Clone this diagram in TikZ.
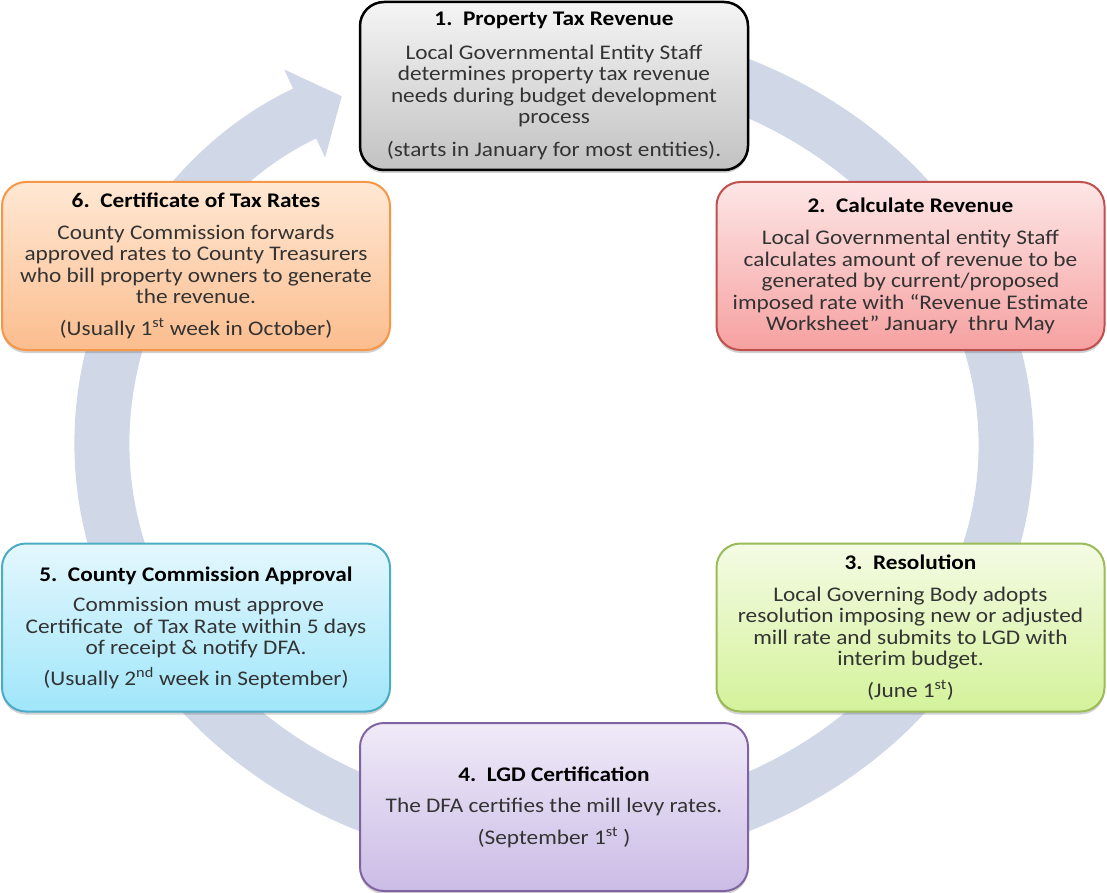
\documentclass[tikz,border=0pt]{standalone}
\usepackage{fontspec}
\setmainfont{Carlito}[FakeStretch=1.12]
\usetikzlibrary{arrows.meta, shadows}
\definecolor{ringblue}{HTML}{D0D8E8}
\tikzset{
stage/.style={draw, rounded corners=24pt, line width=2pt,
  minimum width=388pt, minimum height=168pt, align=center, inner sep=0pt,
  text=black!80, font=\fontsize{20.8}{21.5}\selectfont,
  drop shadow={shadow xshift=0pt, shadow yshift=-3pt, opacity=0.3, fill=black!60}},
ring/.style={draw=ringblue, line width=55pt},
}

\begin{document}
\begin{tikzpicture}[x=1pt, y=-1pt]
    \useasboundingbox (0,0) rectangle (1107,893);

    % circular arrow behind the stages
    \draw[ring, -{Triangle[length=41pt, width=95pt]}]
        (554,445) ++(-100:452 and 395)
        arc[start angle=-100, end angle=242, x radius=452, y radius=395];

    %stages, clockwise from the top
    \node[stage, draw=black, line width=2.5pt, top color=black!4, bottom color=black!24] (s1) at (554,86)
        {\textbf{\color{black}1.\ \ Property Tax Revenue}\\[12pt]
         Local Governmental Entity Staff\\
         determines property tax revenue\\
         needs during budget development\\
         process\\[11pt]
         (starts in January for most entities).};
    \node[stage, draw={rgb,255:red,192;green,80;blue,77}, top color={rgb,255:red,253;green,230;blue,230}, bottom color={rgb,255:red,246;green,160;blue,160}] (s2) at (910.5,266)
        {\textbf{\color{black}2.\ \ Calculate Revenue}\\[11pt]
         Local Governmental entity Staff\\
         calculates amount of revenue to be\\
         generated by current/proposed\\
         imposed rate with “Revenue Estimate\\
         Worksheet” January\ \ thru May};
    \node[stage, draw={rgb,255:red,155;green,187;blue,89}, top color={rgb,255:red,244;green,251;blue,228}, bottom color={rgb,255:red,212;green,242;blue,154}] (s3) at (910.5,627.5)
        {\textbf{\color{black}3.\ \ Resolution}\\[10pt]
         Local Governing Body adopts\\
         resolution imposing new or adjusted\\
         mill rate and submits to LGD with\\
         interim budget.\\[10pt]
         (June 1\textsuperscript{st})};
    \node[stage, draw={rgb,255:red,128;green,100;blue,162}, top color={rgb,255:red,240;green,234;blue,248}, bottom color={rgb,255:red,203;green,188;blue,230}] (s4) at (554,807)
        {\textbf{\color{black}4.\ \ LGD Certification}\\[10pt]
         The DFA certifies the mill levy rates.\\[10pt]
         (September 1\textsuperscript{st} )};
    \node[stage, draw={rgb,255:red,75;green,172;blue,198}, top color={rgb,255:red,228;green,247;blue,253}, bottom color={rgb,255:red,160;green,230;blue,250}] (s5) at (196,627.5)
        {\textbf{\color{black}5.\ \ County Commission Approval}\\[9pt]
         \ Commission must approve\\
         Certificate\ \ of Tax Rate within 5 days\\
         of receipt \& notify DFA.\\[9pt]
         (Usually 2\textsuperscript{nd} week in September)};
    \node[stage, draw={rgb,255:red,247;green,150;blue,70}, top color={rgb,255:red,255;green,232;blue,212}, bottom color={rgb,255:red,251;green,189;blue,142}] (s6) at (196,266)
        {\textbf{\color{black}6.\ \ Certificate of Tax Rates}\\[10pt]
         County Commission forwards\\
         approved rates to County Treasurers\\
         who bill property owners to generate\\
         the revenue.\\[10pt]
         (Usually 1\textsuperscript{st} week in October)};

\end{tikzpicture}
\end{document}
